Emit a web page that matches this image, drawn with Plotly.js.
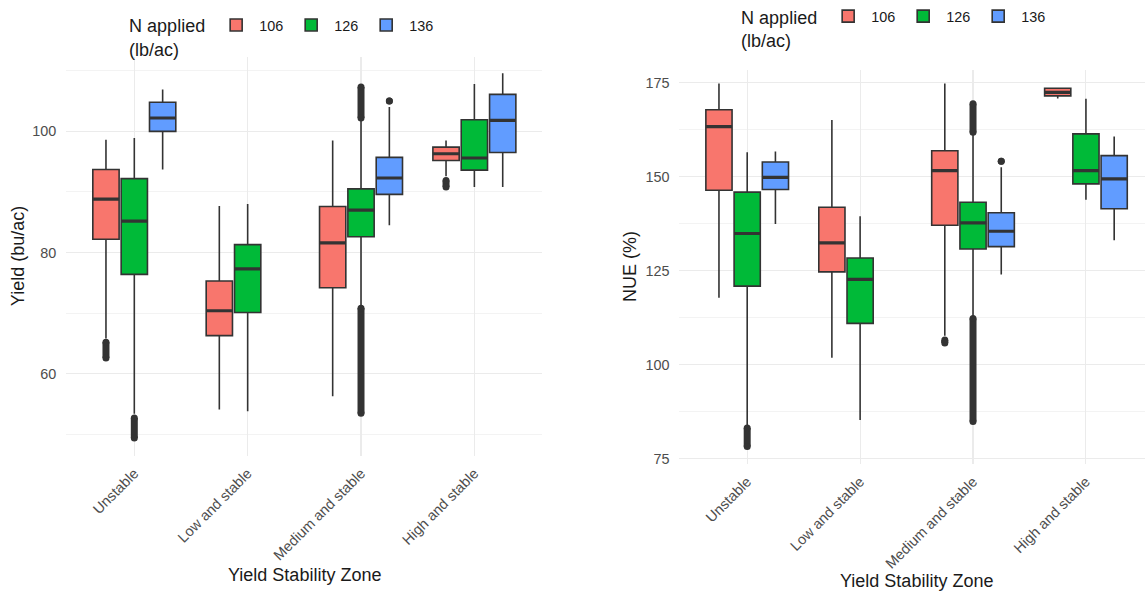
<!DOCTYPE html>
<html>
<head>
<meta charset="utf-8">
<script src="https://cdn.plot.ly/plotly-3.0.1.min.js"></script>
<style>html,body{margin:0;padding:0;background:#fff;}#chart{width:1145px;height:593px;}</style>
</head>
<body>
<div id="chart"></div>
<script>
// ---- data ----
const zones = ['Unstable', 'Low and stable', 'Medium and stable', 'High and stable'];
const nLevels = ['106', '126', '136'];

// Yield (bu/ac)
const yield106Q1 = [82.2, 66.3, 74.2, 95.2];
const yield106Med = [88.8, 70.4, 81.6, 96.3];
const yield106Q3 = [93.7, 75.3, 87.6, 97.4];
const yield106Lo = [65.8, 54.1, 56.3, 92.6];
const yield106Hi = [98.6, 87.7, 98.5, 98.5];
const yield126Q1 = [76.4, 70.1, 82.6, 93.6];
const yield126Med = [85.2, 77.3, 87.0, 95.6];
const yield126Q3 = [92.2, 81.3, 90.5, 101.9];
const yield126Lo = [53.4, 53.8, 71.1, 90.8];
const yield126Hi = [98.9, 88.0, 101.9, 107.8];
const yield136Q1 = [100.0, null, 89.6, 96.5];
const yield136Med = [102.2, null, 92.3, 101.8];
const yield136Q3 = [104.8, null, 95.7, 106.1];
const yield136Lo = [93.7, null, 84.5, 90.8];
const yield136Hi = [106.9, null, 104.0, 109.6];
// outlier spans [from, to] per zone
const yieldOut106 = [[[65.2, 62.6]], [], [], [[91.9, 90.8]]];
const yieldOut126 = [[[52.7, 49.4]], [], [[107.3, 102.2], [70.8, 53.5]], []];
const yieldOut136 = [[], [], [[105.0, 105.0]], []];

// NUE (%)
const nue106Q1 = [146.4, 124.7, 137.1, 171.5];
const nue106Med = [163.3, 132.4, 151.6, 172.4];
const nue106Q3 = [167.8, 141.9, 156.9, 173.5];
const nue106Lo = [117.8, 101.9, 107.7, 170.8];
const nue106Hi = [174.8, 165.1, 174.8, 173.6];
const nue126Q1 = [120.9, 111.0, 130.8, 148.1];
const nue126Med = [134.9, 122.7, 137.7, 151.6];
const nue126Q3 = [145.9, 128.4, 143.2, 161.4];
const nue126Lo = [84.0, 85.3, 113.0, 143.9];
const nue126Hi = [156.5, 139.5, 161.5, 170.7];
const nue136Q1 = [146.6, null, 131.4, 141.5];
const nue136Med = [149.8, null, 135.5, 149.4];
const nue136Q3 = [153.9, null, 140.4, 155.6];
const nue136Lo = [137.4, null, 124.0, 133.1];
const nue136Hi = [156.7, null, 152.5, 160.7];
const nueOut106 = [[], [], [[106.6, 105.8]], []];
const nueOut126 = [[[83.2, 78.3]], [], [[169.4, 161.8], [112.3, 84.9]], []];
const nueOut136 = [[], [], [[154.1, 154.1]], []];

// ---- styling ----
const colors = ['#F8766D', '#00BA38', '#619CFF'];
const offsets = [-0.25, 0, 0.25];
const boxW = 0.232;
const dark = '#333333';

function buildPanel(stats, outs, xa, ya, legendId) {
  const traces = [];
  stats.forEach((s, k) => {
    const idx = [];
    s.q1.forEach((v, i) => { if (v !== null) idx.push(i); });
    const pos = idx.map(i => i + 1 + offsets[k]);
    traces.push({
      type: 'box', name: nLevels[k], xaxis: xa, yaxis: ya, legend: legendId,
      x: pos,
      q1: idx.map(i => s.q1[i]), median: idx.map(i => s.med[i]), q3: idx.map(i => s.q3[i]),
      lowerfence: idx.map(i => s.lo[i]), upperfence: idx.map(i => s.hi[i]),
      width: boxW, whiskerwidth: 0, boxpoints: false,
      fillcolor: colors[k], line: {color: dark, width: 1.6},
      hoverinfo: 'skip'
    });
    // thick median
    const mx = [], my = [];
    idx.forEach(i => {
      const p = i + 1 + offsets[k];
      mx.push(p - boxW / 2, p + boxW / 2, null);
      my.push(s.med[i], s.med[i], null);
    });
    traces.push({type: 'scatter', mode: 'lines', x: mx, y: my, xaxis: xa, yaxis: ya,
      line: {color: dark, width: 3.2}, showlegend: false, hoverinfo: 'skip'});
    // outliers
    const ox = [], oy = [];
    outs[k].forEach((spans, i) => {
      spans.forEach(sp => {
        const p = i + 1 + offsets[k];
        ox.push(p, p, null); oy.push(sp[0], sp[1], null);
      });
    });
    if (ox.length) {
      traces.push({type: 'scatter', mode: 'lines+markers', x: ox, y: oy, xaxis: xa, yaxis: ya,
        line: {color: dark, width: 7}, marker: {color: dark, size: 7},
        showlegend: false, hoverinfo: 'skip'});
    }
  });
  return traces;
}

const yieldStats = [
  {q1: yield106Q1, med: yield106Med, q3: yield106Q3, lo: yield106Lo, hi: yield106Hi},
  {q1: yield126Q1, med: yield126Med, q3: yield126Q3, lo: yield126Lo, hi: yield126Hi},
  {q1: yield136Q1, med: yield136Med, q3: yield136Q3, lo: yield136Lo, hi: yield136Hi}
];
const nueStats = [
  {q1: nue106Q1, med: nue106Med, q3: nue106Q3, lo: nue106Lo, hi: nue106Hi},
  {q1: nue126Q1, med: nue126Med, q3: nue126Q3, lo: nue126Lo, hi: nue126Hi},
  {q1: nue136Q1, med: nue136Med, q3: nue136Q3, lo: nue136Lo, hi: nue136Hi}
];

const data = [].concat(
  buildPanel(yieldStats, [yieldOut106, yieldOut126, yieldOut136], 'x', 'y', 'legend'),
  buildPanel(nueStats, [nueOut106, nueOut126, nueOut136], 'x2', 'y2', 'legend2')
);

const font = {family: 'Liberation Sans, Arial, sans-serif'};
const grid = '#ebebeb';
const tickfont = {size: 14.5, color: '#4d4d4d'};
function xAxis(domain, range, anchor) {
  return {domain: domain, range: range, anchor: anchor, tickvals: [1, 2, 3, 4], ticktext: zones,
    tickangle: -45, ticks: '', showline: false, zeroline: false, showgrid: true,
    gridcolor: grid, gridwidth: 1.1, tickfont: tickfont, ticklabelstandoff: 5,
    automargin: false, fixedrange: true};
}
function yAxis(domain, range, anchor, dtick, standoff) {
  return {domain: domain, range: range, anchor: anchor, dtick: dtick, tick0: 0, ticks: '',
    showline: false, zeroline: false, showgrid: true, gridcolor: grid, gridwidth: 1.1,
    minor: {dtick: dtick / 2, showgrid: true, gridcolor: grid, gridwidth: 0.6},
    tickfont: {size: 14.4, color: '#4d4d4d'}, ticklabelstandoff: standoff, automargin: false, fixedrange: true};
}
const legendBase = {orientation: 'h', xanchor: 'left', yanchor: 'top', bgcolor: 'rgba(0,0,0,0)',
  font: {size: 14.4, color: '#1a1a1a'}, itemwidth: 36,
  title: {text: 'N applied<br>(lb/ac)', side: 'left', font: {size: 18, color: '#1a1a1a'}}};

const layout = {
  width: 1145, height: 593, margin: {l: 0, r: 0, t: 0, b: 0},
  paper_bgcolor: '#ffffff', plot_bgcolor: '#ffffff', font: font,
  boxmode: 'overlay', showlegend: true,
  xaxis: xAxis([0.0579, 0.4737], [0.4, 4.6], 'y'),
  yaxis: yAxis([0.2315, 0.9073], [46.4, 112.3], 'x', 20, 9),
  xaxis2: xAxis([0.5934, 1.0], [0.4, 4.523], 'y2'),
  yaxis2: yAxis([0.2175, 0.8845], [73.5, 178.3], 'x2', 25, 9),
  legend: Object.assign({}, legendBase, {x: 0.1110, y: 0.988}),
  legend2: Object.assign({}, legendBase, {x: 0.6455, y: 1.003}),
  annotations: [
    {text: 'Yield (bu/ac)', xref: 'paper', yref: 'paper', x: 18 / 1145, y: 1 - 255 / 593,
     textangle: -90, showarrow: false, xanchor: 'center', yanchor: 'middle', font: {size: 18, color: '#1a1a1a'}},
    {text: 'NUE (%)', xref: 'paper', yref: 'paper', x: 630 / 1145, y: 1 - 266 / 593,
     textangle: -90, showarrow: false, xanchor: 'center', yanchor: 'middle', font: {size: 18, color: '#1a1a1a'}},
    {text: 'Yield Stability Zone', xref: 'paper', yref: 'paper', x: 304 / 1145, y: 1 - 575 / 593,
     showarrow: false, xanchor: 'center', yanchor: 'middle', font: {size: 18, color: '#1a1a1a'}},
    {text: 'Yield Stability Zone', xref: 'paper', yref: 'paper', x: 916 / 1145, y: 1 - 581 / 593,
     showarrow: false, xanchor: 'center', yanchor: 'middle', font: {size: 18, color: '#1a1a1a'}}
  ]
};

Plotly.newPlot('chart', data, layout, {displayModeBar: false, staticPlot: true});
</script>
</body>
</html>
